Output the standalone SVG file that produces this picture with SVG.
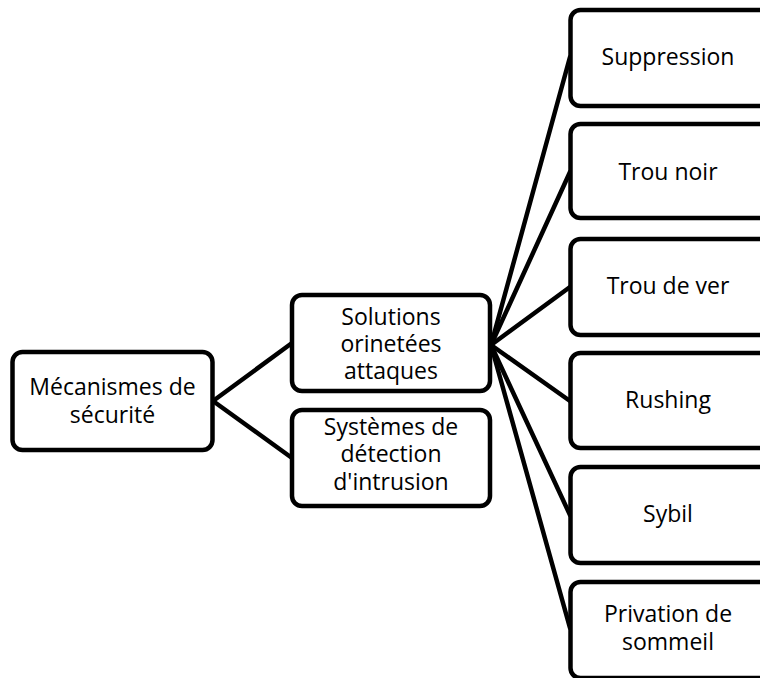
<svg xmlns="http://www.w3.org/2000/svg" width="760" height="678" viewBox="0 0 760 678">
  <style>
    .box { fill: #ffffff; stroke: #000000; stroke-width: 4.5; }
    .lbl { font-family: "Open Sans", "Liberation Sans", sans-serif; font-size: 23px; fill: #000000; text-anchor: middle; }
    .wire { stroke: #000000; stroke-width: 4.5; fill: none; stroke-linecap: round; }
  </style>
  <rect width="760" height="678" fill="#ffffff"/>

  <!-- connectors -->
  <g id="connectors">
    <line class="wire" x1="213" y1="401" x2="292" y2="343"/>
    <line class="wire" x1="213" y1="401" x2="292" y2="458"/>
    <line class="wire" x1="491" y1="345" x2="570" y2="57"/>
    <line class="wire" x1="491" y1="345" x2="570" y2="172"/>
    <line class="wire" x1="491" y1="345" x2="570" y2="287"/>
    <line class="wire" x1="491" y1="345" x2="570" y2="401"/>
    <line class="wire" x1="491" y1="345" x2="570" y2="515"/>
    <line class="wire" x1="491" y1="345" x2="570" y2="628"/>
  </g>

  <g id="mecanismes">
    <rect class="box" x="12.5" y="352" width="200" height="98" rx="10"/>
    <text class="lbl" x="112.5" y="395">Mécanismes de</text>
    <text class="lbl" x="112.5" y="423">sécurité</text>
  </g>

  <g id="solutions">
    <rect class="box" x="292" y="295" width="198" height="96" rx="10"/>
    <text class="lbl" x="391" y="325">Solutions</text>
    <text class="lbl" x="391" y="352">orinetées</text>
    <text class="lbl" x="391" y="379">attaques</text>
  </g>

  <g id="ids">
    <rect class="box" x="292" y="410" width="198" height="96" rx="10"/>
    <text class="lbl" x="391" y="435">Systèmes de</text>
    <text class="lbl" x="391" y="462">détection</text>
    <text class="lbl" x="391" y="490">d'intrusion</text>
  </g>

  <g id="suppression">
    <rect class="box" x="570.5" y="10" width="200" height="96" rx="10"/>
    <text class="lbl" x="668" y="65">Suppression</text>
  </g>

  <g id="trou-noir">
    <rect class="box" x="570.5" y="124" width="200" height="94" rx="10"/>
    <text class="lbl" x="668" y="180">Trou noir</text>
  </g>

  <g id="trou-de-ver">
    <rect class="box" x="570.5" y="239" width="200" height="96" rx="10"/>
    <text class="lbl" x="668" y="294">Trou de ver</text>
  </g>

  <g id="rushing">
    <rect class="box" x="570.5" y="353" width="200" height="95" rx="10"/>
    <text class="lbl" x="668" y="408">Rushing</text>
  </g>

  <g id="sybil">
    <rect class="box" x="570.5" y="467" width="200" height="96" rx="10"/>
    <text class="lbl" x="668" y="522">Sybil</text>
  </g>

  <g id="privation">
    <rect class="box" x="570.5" y="582" width="200" height="96" rx="10"/>
    <text class="lbl" x="668" y="622">Privation de</text>
    <text class="lbl" x="668" y="650">sommeil</text>
  </g>
</svg>
